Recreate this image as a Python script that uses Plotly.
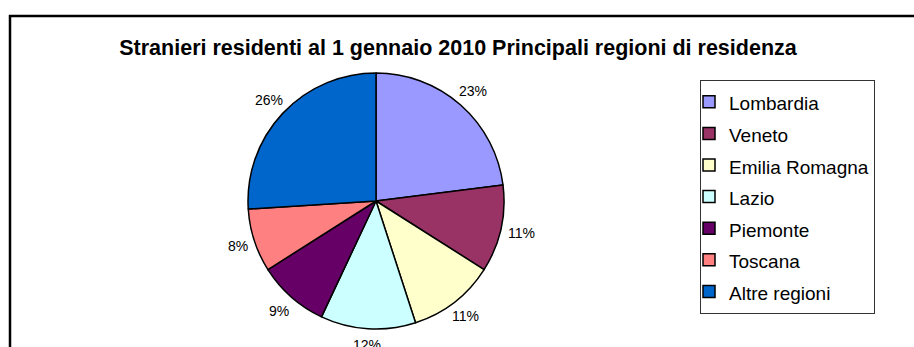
import math
import plotly.graph_objects as go

# Foreign residents on 1 January 2010, share by region of residence (%)
regions = ["Lombardia", "Veneto", "Emilia Romagna", "Lazio", "Piemonte", "Toscana", "Altre regioni"]
shares = [23, 11, 11, 12, 9, 8, 26]
slice_colors = ["#9999FF", "#993366", "#FFFFCC", "#CCFFFF", "#660066", "#FF8080", "#0066CC"]

W, H = 914, 347
FONT = "Liberation Sans, Arial, sans-serif"

# pie placement in pixels (centre and radius)
cx, cy, r = 376, 201, 128
LABEL_SIZE = 14
LABEL_GAP = 9

fig = go.Figure(
    go.Pie(
        labels=[f'<span style="font-size:19px">{name}</span>' for name in regions],
        values=shares,
        sort=False,
        direction="clockwise",
        rotation=0,
        marker=dict(colors=slice_colors, line=dict(color="#000000", width=1.5)),
        textinfo="none",
        hoverinfo="label+percent",
        domain=dict(
            x=[(cx - r) / W, (cx + r) / W],
            y=[(H - cy - r) / H, (H - cy + r) / H],
        ),
    )
)

# percentage labels just outside each slice, on the slice's mid-angle
total = sum(shares)
annotations = []
cum = 0.0
for v in shares:
    mid = (cum + v / 2) / total * 2 * math.pi
    cum += v
    ux, uy = math.sin(mid), -math.cos(mid)  # clockwise from 12 o'clock, y downwards
    text = f"{round(v / total * 100)}%"
    half_w = 0.55 * LABEL_SIZE * len(text) / 2
    half_h = LABEL_SIZE / 2
    t = min(half_w / max(abs(ux), 1e-9), half_h / max(abs(uy), 1e-9))
    d = r + LABEL_GAP + t
    px, py = cx + d * ux, cy + d * uy
    annotations.append(
        dict(
            x=px / W,
            y=1 - py / H,
            xref="paper",
            yref="paper",
            text=text,
            showarrow=False,
            xanchor="center",
            yanchor="middle",
            font=dict(family=FONT, size=LABEL_SIZE, color="#000000"),
        )
    )

fig.update_layout(
    width=W,
    height=H,
    margin=dict(l=0, r=0, t=0, b=0),
    paper_bgcolor="#FFFFFF",
    font=dict(family=FONT, color="#000000"),
    title=dict(
        text="<b>Stranieri residenti al 1 gennaio 2010 Principali regioni di residenza</b>",
        x=458 / W,
        xanchor="center",
        y=1 - 47 / H,
        yanchor="middle",
        font=dict(family=FONT, size=21.5, color="#000000"),
    ),
    legend=dict(
        x=700 / W,
        y=1 - 80 / H,
        xanchor="left",
        yanchor="top",
        bordercolor="#333333",
        borderwidth=1,
        bgcolor="#FFFFFF",
        font=dict(family=FONT, size=22, color="#000000"),
        indentation=-12,
        itemwidth=30,
    ),
    annotations=annotations,
    shapes=[
        # chart-area frame
        dict(
            type="rect",
            xref="paper",
            yref="paper",
            x0=10 / W,
            x1=1.05,
            y0=-0.2,
            y1=1 - 16 / H,
            line=dict(color="#000000", width=2.5),
            fillcolor="rgba(0,0,0,0)",
            layer="above",
        )
    ],
)

fig.write_html("out.html")
